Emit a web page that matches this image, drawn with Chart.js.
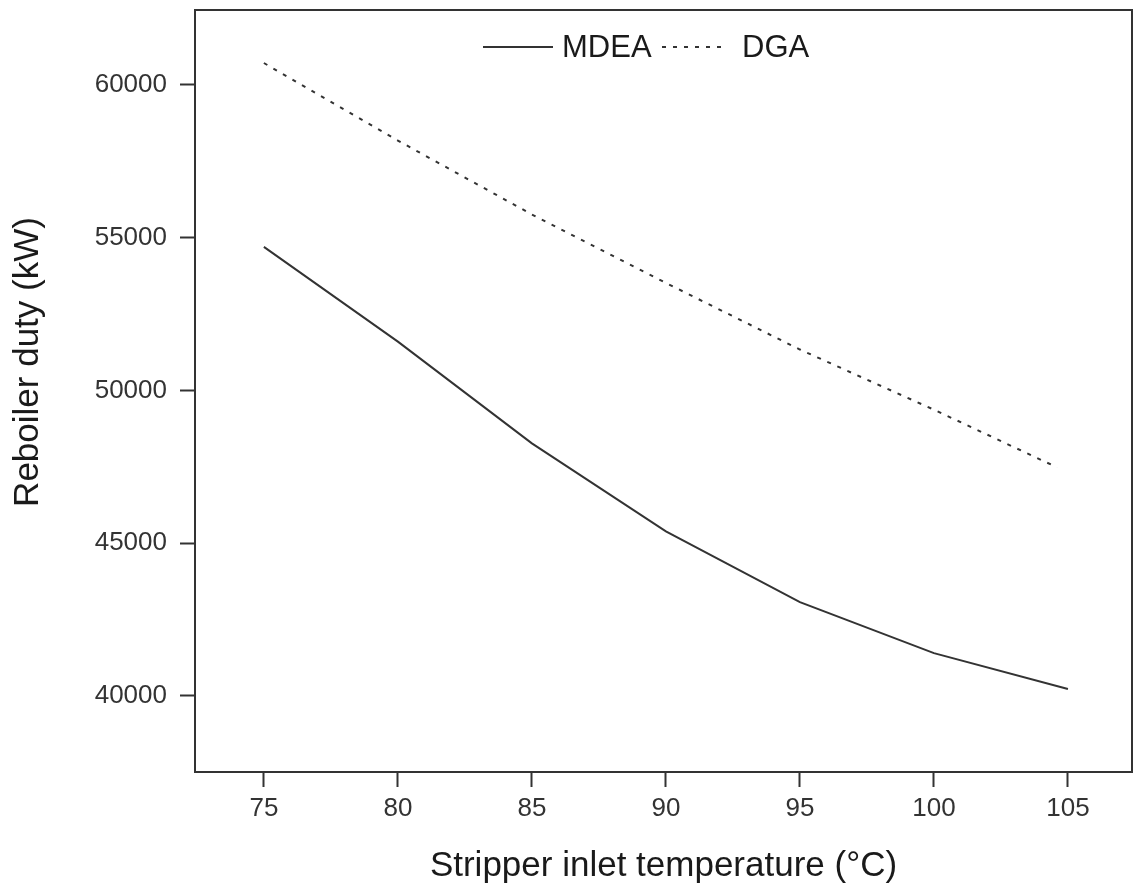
<!DOCTYPE html>
<html>
<head>
<meta charset="utf-8">
<script src="https://cdn.jsdelivr.net/npm/chart.js@4.4.0/dist/chart.umd.min.js"></script>
<style>
    html, body { margin: 0; padding: 0; background: #ffffff; }
    #wrap { width: 1133px; height: 890px; }
</style>
</head>
<body>
<div id="wrap"><canvas id="grafico"></canvas></div>
<script>
// datos
const temperatures = [75, 80, 85, 90, 95, 100, 105];
const dgaTemperatures = [75, 80, 85, 90, 95, 100, 104.6];
const mdeaDuty = [54700, 51600, 48270, 45390, 43070, 41400, 40230];
const dgaDuty = [60720, 58180, 55760, 53520, 51340, 49370, 47480];
const xTicks = [75, 80, 85, 90, 95, 100, 105];
const yTicks = [40000, 45000, 50000, 55000, 60000];
const seriesNames = ['MDEA', 'DGA'];
const yTitle = 'Reboiler duty (kW)';

const ink = '#333333';
const fontFamily = 'Arial, "Liberation Sans", sans-serif';

const toPoints = (xs, ys) => xs.map((x, i) => ({ x, y: ys[i] }));

// borde completo del area de trazado
const frame = {
    id: 'frame',
    afterDraw(chart) {
        const { ctx, chartArea: a } = chart;
        ctx.save();
        ctx.strokeStyle = ink;
        ctx.lineWidth = 2;
        ctx.strokeRect(a.left, a.top, a.right - a.left, a.bottom - a.top);
        ctx.restore();
    }
};

// titulo del eje y, un poco por encima del centro como en la figura
const yAxisTitle = {
    id: 'yAxisTitle',
    afterDraw(chart) {
        const { ctx } = chart;
        ctx.save();
        ctx.translate(28, 362);
        ctx.rotate(-Math.PI / 2);
        ctx.font = '35px ' + fontFamily;
        ctx.fillStyle = '#1a1a1a';
        ctx.textAlign = 'center';
        ctx.textBaseline = 'middle';
        ctx.fillText(yTitle, 0, 0);
        ctx.restore();
    }
};

// leyenda dentro del grafico, arriba al centro
const innerLegend = {
    id: 'innerLegend',
    afterDraw(chart) {
        const { ctx } = chart;
        const y = 47;
        const items = [
            { x0: 483, x1: 553, tx: 562, ds: chart.data.datasets[0] },
            { x0: 662, x1: 722, tx: 742, ds: chart.data.datasets[1] }
        ];
        ctx.save();
        ctx.font = '31px ' + fontFamily;
        ctx.textBaseline = 'middle';
        ctx.fillStyle = '#1a1a1a';
        for (let it of items) {
            ctx.beginPath();
            ctx.strokeStyle = ink;
            ctx.lineWidth = 2;
            ctx.setLineDash(it.ds.borderDash || []);
            ctx.moveTo(it.x0, y);
            ctx.lineTo(it.x1, y);
            ctx.stroke();
            ctx.setLineDash([]);
            ctx.fillText(it.ds.label, it.tx, y + 1);
        }
        ctx.restore();
    }
};

new Chart(document.getElementById('grafico'), {
    type: 'line',
    data: {
        datasets: [
            {
                label: seriesNames[0],
                data: toPoints(temperatures, mdeaDuty),
                borderColor: ink,
                borderWidth: 2,
                pointRadius: 0,
                tension: 0,
                fill: false
            },
            {
                label: seriesNames[1],
                data: toPoints(dgaTemperatures, dgaDuty),
                borderColor: ink,
                borderWidth: 2,
                borderDash: [4, 7],
                pointRadius: 0,
                tension: 0,
                fill: false
            }
        ]
    },
    options: {
        responsive: true,
        maintainAspectRatio: false,
        animation: false,
        layout: { padding: { top: 10, right: 1, left: 0, bottom: 0 } },
        plugins: {
            legend: { display: false },
            tooltip: { enabled: false }
        },
        scales: {
            x: {
                type: 'linear',
                min: 72.43,
                max: 107.39,
                afterBuildTicks: (s) => { s.ticks = xTicks.map(v => ({ value: v })); },
                afterFit: (s) => { s.height = 118; s.paddingLeft = 0; s.paddingRight = 0; },
                grid: { drawOnChartArea: false, tickLength: 15, tickColor: ink, tickWidth: 2 },
                border: { color: ink, width: 2 },
                ticks: {
                    padding: 6,
                    color: '#333333',
                    font: { family: fontFamily, size: 26 },
                    maxRotation: 0
                },
                title: {
                    display: true,
                    text: 'Stripper inlet temperature (°C)',
                    color: '#1a1a1a',
                    font: { family: fontFamily, size: 35 },
                    padding: { top: 3, bottom: 3 }
                }
            },
            y: {
                type: 'linear',
                min: 37510,
                max: 62455,
                afterBuildTicks: (s) => { s.ticks = yTicks.map(v => ({ value: v })); },
                afterFit: (s) => { s.width = 195; s.paddingTop = 0; s.paddingBottom = 0; },
                grid: { drawOnChartArea: false, tickLength: 15, tickColor: ink, tickWidth: 2 },
                border: { color: ink, width: 2 },
                ticks: {
                    padding: 13,
                    color: '#333333',
                    font: { family: fontFamily, size: 26 },
                    callback: (v) => String(v)
                },
                title: { display: false }
            }
        }
    },
    plugins: [frame, yAxisTitle, innerLegend]
});
</script>
</body>
</html>
